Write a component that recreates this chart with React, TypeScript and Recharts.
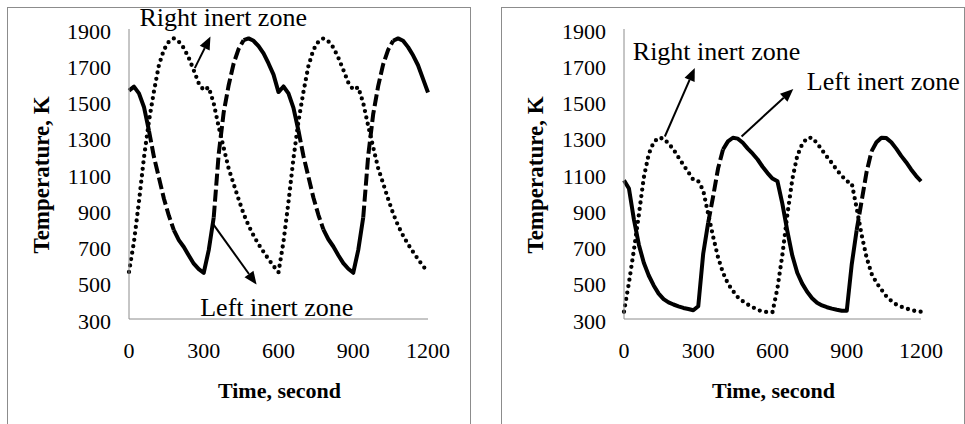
import { LineChart, Line, XAxis, YAxis, ReferenceLine, ReferenceDot } from 'recharts';

// time axis, seconds
const time = [
    0, 20, 40, 60, 80, 100, 120, 140, 160, 180, 200, 220, 240, 260, 280, 300, 320, 340, 360, 380,
    400, 420, 440, 460, 480, 500, 520, 540, 560, 580, 600, 620, 640, 660, 680, 700, 720, 740, 760, 780,
    800, 820, 840, 860, 880, 900, 920, 940, 960, 980, 1000, 1020, 1040, 1060, 1080, 1100, 1120, 1140, 1160, 1180,
    1200,
];

// left panel, temperature in K
const leftHeavy = [
    1560, 1582, 1545, 1470, 1340, 1195, 1080, 965, 870, 790, 735, 697, 650, 605, 575, 555, 680, 860, 1210, 1440,
    1590, 1710, 1790, 1838, 1848, 1835, 1805, 1765, 1710, 1648, 1552, 1583, 1545, 1465, 1340, 1200, 1085, 970, 875, 795,
    740, 700, 652, 608, 577, 555, 680, 860, 1200, 1430, 1585, 1705, 1785, 1835, 1848, 1835, 1800, 1755, 1700, 1625,
    1550,
];
const leftDotted = [
    560, 726, 948, 1190, 1391, 1555, 1700, 1785, 1830, 1848, 1830, 1795, 1740, 1672, 1600, 1562, 1578, 1490, 1360, 1245,
    1130, 1045, 960, 880, 815, 760, 712, 670, 630, 592, 558, 726, 945, 1185, 1390, 1552, 1695, 1785, 1830, 1848,
    1832, 1798, 1742, 1675, 1605, 1565, 1578, 1492, 1365, 1248, 1132, 1048, 962, 882, 815, 760, 712, 670, 630, 592,
    560,
];

// right panel, temperature in K
const rightHeavy = [
    1065, 1020, 850, 710, 610, 540, 485, 440, 410, 392, 380, 370, 361, 355, 348, 370, 660, 830, 975, 1130,
    1235, 1280, 1300, 1295, 1272, 1240, 1212, 1180, 1140, 1105, 1075, 1060, 935, 785, 650, 555, 495, 450, 415, 390,
    375, 365, 357, 351, 346, 345, 600, 790, 950, 1110, 1225, 1275, 1300, 1298, 1275, 1240, 1200, 1165, 1125, 1090,
    1060,
];
const rightDotted = [
    340, 500, 680, 875, 1080, 1210, 1275, 1300, 1295, 1268, 1235, 1192, 1150, 1110, 1068, 1060, 1010, 880, 755, 640,
    555, 495, 455, 420, 398, 380, 365, 350, 342, 338, 338, 470, 655, 875, 1070, 1200, 1265, 1298, 1300, 1270,
    1232, 1195, 1160, 1122, 1090, 1060, 1050, 912, 765, 640, 550, 500, 462, 425, 400, 380, 368, 358, 350, 343,
    340,
];

// time spans where the heavy curve shows as dashes
const leftDashed: [number, number][] = [[80, 180], [340, 460], [680, 780], [940, 1060]];
const rightDashed: [number, number][] = [[340, 400], [940, 1000]];

const xTicks = [0, 300, 600, 900, 1200];
const yTicks = [300, 500, 700, 900, 1100, 1300, 1500, 1700, 1900];

// annotations (data coordinates)
const leftNotes = [
    { text: 'Right inert zone', t: 378, v: 1914 },
    { text: 'Left inert zone', t: 593, v: 318 },
];
const leftArrows = [
    { from: [264, 1684], to: [327, 1859] },
    { from: [335, 829], to: [512, 490] },
];
const rightNotes = [
    { text: 'Right inert zone', t: 374, v: 1731 },
    { text: 'Left inert zone', t: 1048, v: 1565 },
];
const rightArrows = [
    { from: [165, 1307], to: [286, 1685] },
    { from: [475, 1307], to: [684, 1569] },
];

const FONT = "'Liberation Serif', 'Times New Roman', Times, serif";

type Pt = { t: number; v: number };

function splitRuns(pts: Pt[], ranges: [number, number][]) {
    const isDashed = (a: number, b: number) => ranges.some(([s, e]) => a >= s && b <= e);
    const runs: { dashed: boolean; data: Pt[] }[] = [];
    let cur = { dashed: isDashed(pts[0].t, pts[1].t), data: [pts[0]] };
    for (let i = 1; i < pts.length; i++) {
        const d = isDashed(pts[i - 1].t, pts[i].t);
        if (d !== cur.dashed) {
            runs.push(cur);
            cur = { dashed: d, data: [pts[i - 1]] };
        }
        cur.data.push(pts[i]);
    }
    runs.push(cur);
    return runs;
}

const XTick = ({ x, y, payload }: any) => (
    <text x={x} y={y + 39} textAnchor="middle" fontFamily={FONT} fontSize={22} fill="#000">
        {payload.value}
    </text>
);

const YTick = ({ x, y, payload }: any) => (
    <text x={x - 18} y={y + 9.5} textAnchor="end" fontFamily={FONT} fontSize={22} fill="#000">
        {payload.value}
    </text>
);

const ArrowShape = (p: any) => {
    const { x1, y1, x2, y2 } = p;
    const dx = x2 - x1;
    const dy = y2 - y1;
    const len = Math.hypot(dx, dy) || 1;
    const ux = dx / len;
    const uy = dy / len;
    const hl = 13;
    const hw = 5.5;
    const bx = x2 - ux * hl;
    const by = y2 - uy * hl;
    return (
        <g>
            <line x1={x1} y1={y1} x2={bx} y2={by} stroke="#000" strokeWidth={2} />
            <polygon
                points={`${x2},${y2} ${bx - uy * hw},${by + ux * hw} ${bx + uy * hw},${by - ux * hw}`}
                fill="#000"
            />
        </g>
    );
};

type PanelProps = {
    left: number;
    axisWidth: number;
    rightMargin: number;
    heavy: number[];
    dotted: number[];
    dashed: [number, number][];
    notes: { text: string; t: number; v: number }[];
    arrows: { from: number[]; to: number[] }[];
};

function Panel({ left, axisWidth, rightMargin, heavy, dotted, dashed, notes, arrows }: PanelProps) {
    const toPts = (vals: number[]) => time.map((t, i) => ({ t, v: vals[i] }));
    const heavyRuns = splitRuns(toPts(heavy), dashed);

    return (
        <div style={{ position: 'absolute', left, top: 7, width: 464, height: 430 }}>
            <div
                style={{
                    position: 'absolute',
                    inset: 0,
                    border: '1px solid #8c8c8c',
                    boxSizing: 'border-box',
                }}
            />
            <div style={{ position: 'absolute', left: 0, top: -7 }}>
                <LineChart width={464} height={424} margin={{ top: 29, right: rightMargin, bottom: 25, left: 0 }}>
                    <XAxis
                        type="number"
                        dataKey="t"
                        domain={[0, 1200]}
                        ticks={xTicks}
                        height={80}
                        tickLine={false}
                        tickSize={0}
                        tickMargin={0}
                        tick={XTick}
                        axisLine={{ stroke: '#8c8c8c', strokeWidth: 1 }}
                        label={{
                            content: ({ viewBox }: any) => (
                                <text
                                    x={viewBox.x + viewBox.width / 2 + 1}
                                    y={viewBox.y + 79}
                                    textAnchor="middle"
                                    fontFamily={FONT}
                                    fontWeight="bold"
                                    fontSize={22}
                                    fill="#000"
                                >
                                    Time, second
                                </text>
                            ),
                        }}
                    />
                    <YAxis
                        type="number"
                        domain={[300, 1900]}
                        ticks={yTicks}
                        width={axisWidth}
                        tickLine={false}
                        tickSize={0}
                        tickMargin={0}
                        tick={YTick}
                        axisLine={{ stroke: '#8c8c8c', strokeWidth: 1 }}
                        label={{
                            content: ({ viewBox }: any) => {
                                const cx = viewBox.x + 42;
                                const cy = viewBox.y + viewBox.height / 2 + 1;
                                return (
                                    <text
                                        x={cx}
                                        y={cy}
                                        transform={`rotate(-90 ${cx} ${cy})`}
                                        textAnchor="middle"
                                        fontFamily={FONT}
                                        fontWeight="bold"
                                        fontSize={23}
                                        fill="#000"
                                    >
                                        Temperature, K
                                    </text>
                                );
                            },
                        }}
                    />
                    <Line
                        data={toPts(dotted)}
                        dataKey="v"
                        type="linear"
                        stroke="#000"
                        strokeWidth={4.3}
                        strokeDasharray="0 6.5"
                        strokeLinecap="round"
                        dot={false}
                        activeDot={false}
                        isAnimationActive={false}
                    />
                    {heavyRuns.map((run, k) => (
                        <Line
                            key={k}
                            data={run.data}
                            dataKey="v"
                            type="linear"
                            stroke="#000"
                            strokeWidth={4}
                            strokeDasharray={run.dashed ? '12 4' : undefined}
                            strokeLinejoin="round"
                            dot={false}
                            activeDot={false}
                            isAnimationActive={false}
                        />
                    ))}
                    {arrows.map((a, k) => (
                        <ReferenceLine
                            key={`a${k}`}
                            segment={[
                                { x: a.from[0], y: a.from[1] },
                                { x: a.to[0], y: a.to[1] },
                            ]}
                            ifOverflow="visible"
                            shape={ArrowShape}
                        />
                    ))}
                    {notes.map((n, k) => (
                        <ReferenceDot
                            key={`n${k}`}
                            x={n.t}
                            y={n.v}
                            r={0}
                            ifOverflow="visible"
                            shape={(p: any) => (
                                <text x={p.cx} y={p.cy} textAnchor="middle" fontFamily={FONT} fontSize={26} fill="#000">
                                    {n.text}
                                </text>
                            )}
                        />
                    ))}
                </LineChart>
            </div>
        </div>
    );
}

export default function App() {
    return (
        <div
            style={{
                position: 'absolute',
                left: 0,
                top: 0,
                width: 965,
                height: 424,
                overflow: 'hidden',
                background: '#fff',
            }}
        >
            <Panel
                left={7}
                axisWidth={122}
                rightMargin={43}
                heavy={leftHeavy}
                dotted={leftDotted}
                dashed={leftDashed}
                notes={leftNotes}
                arrows={leftArrows}
            />
            <Panel
                left={501}
                axisWidth={123}
                rightMargin={44}
                heavy={rightHeavy}
                dotted={rightDotted}
                dashed={rightDashed}
                notes={rightNotes}
                arrows={rightArrows}
            />
        </div>
    );
}
